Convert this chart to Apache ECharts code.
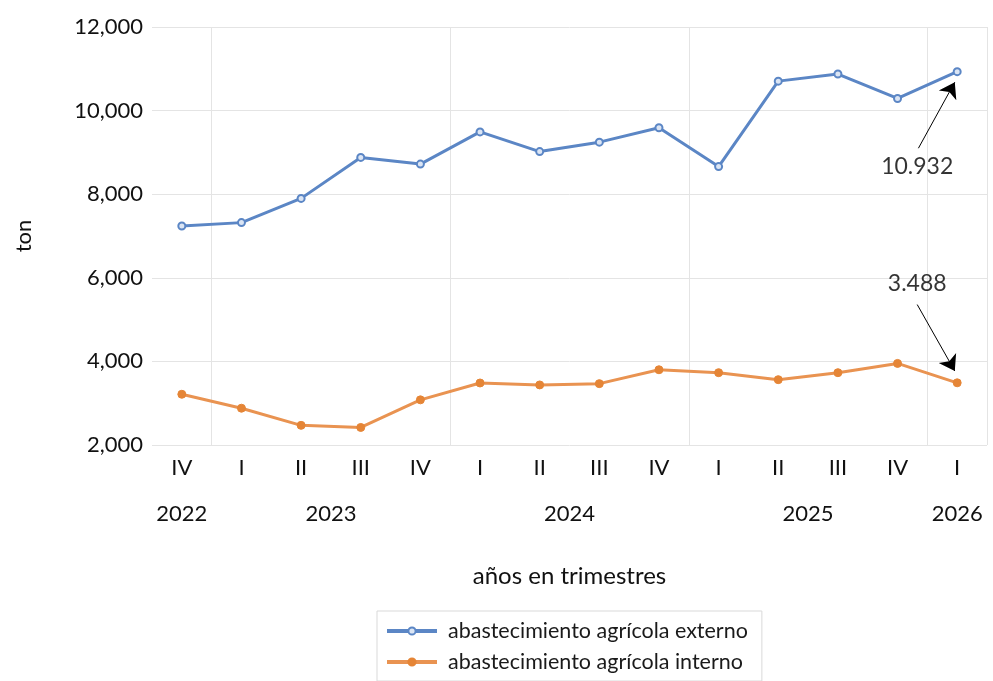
<!DOCTYPE html>
<html>
<head>
<meta charset="utf-8">
<script src="https://cdn.jsdelivr.net/npm/echarts@6/dist/echarts.min.js"></script>
<style>html,body{margin:0;padding:0;background:#fff}#c{width:993px;height:681px}</style>
</head>
<body>
<div id="c"></div>
<script>
const quarters = ['IV','I','II','III','IV','I','II','III','IV','I','II','III','IV','I'];
const yearLabels = ['2022','2023','2024','2025','2026'];
const yearPositions = [0, 2.5, 6.5, 10.5, 13];
const yearBoundaries = [1, 5, 9, 13];
const externo = [7240, 7320, 7900, 8880, 8720, 9490, 9020, 9245, 9590, 8660, 10705, 10875, 10290, 10932];
const interno = [3214, 2880, 2470, 2420, 3080, 3484, 3437, 3468, 3800, 3730, 3563, 3730, 3952, 3488];
const seriesNames = ['abastecimiento agrícola externo', 'abastecimiento agrícola interno'];
const annotationTexts = ['10.932', '3.488'];
const annotationTextPos = [[12.33, 8670], [12.33, 5860]];
const annotationArrows = [
  [[12.35, 9100], [12.96, 10680]],
  [[12.33, 5360], [12.96, 3770]]
];

const FONT = 'Lato';
const BLUE = '#5b86c5', ORANGE = '#e99351';
const chart = echarts.init(document.getElementById('c'));
chart.setOption({
  animation: false,
  textStyle: {fontFamily: FONT},
  grid: {left: 152, right: 6, top: 27, bottom: 236, containLabel: false},
  legend: {
    data: [
      {name: seriesNames[0], itemStyle: {color: '#dbe5f4', borderColor: BLUE, borderWidth: 2}, lineStyle: {width: 4, color: BLUE}},
      {name: seriesNames[1], itemStyle: {color: '#e58536', borderColor: '#e58536'}, lineStyle: {width: 4, color: ORANGE}}
    ],
    orient: 'vertical',
    left: 377, top: 611, height: 120,
    itemWidth: 50, itemHeight: 9, itemGap: 9,
    padding: [9, 14, 8, 8],
    borderColor: '#d9d9d9', borderWidth: 1,
    textStyle: {fontFamily: FONT, fontSize: 21.5, color: '#1a1a1a', padding: [0, 0, 0, 6]}
  },
  xAxis: [
    {
      type: 'category', data: quarters, boundaryGap: true,
      axisLine: {show: false}, axisTick: {show: false},
      axisLabel: {fontSize: 22, color: '#111', margin: 12, interval: 0},
      splitLine: {show: true, interval: (i) => yearBoundaries.includes(i), lineStyle: {color: '#e4e4e4', width: 1}},
      name: 'años en trimestres', nameLocation: 'middle', nameGap: 119,
      nameTextStyle: {fontSize: 24, color: '#111'}
    },
    {
      type: 'value', position: 'bottom', offset: 46,
      min: -0.5, max: 13.5, interval: 0.5,
      axisLine: {show: false}, axisTick: {show: false}, splitLine: {show: false},
      axisLabel: {
        fontSize: 22, color: '#111', margin: 12, showMinLabel: true, showMaxLabel: true,
        formatter: (v) => { const i = yearPositions.findIndex(p => Math.abs(p - v) < 1e-6); return i >= 0 ? yearLabels[i] : ''; }
      }
    }
  ],
  yAxis: {
    type: 'value', min: 2000, max: 12000, interval: 2000,
    axisLine: {show: false}, axisTick: {show: false},
    axisLabel: {fontSize: 22, color: '#111', margin: 9},
    splitLine: {lineStyle: {color: '#e4e4e4', width: 1}},
    name: 'ton', nameLocation: 'middle', nameGap: 117, nameRotate: 90,
    nameTextStyle: {fontSize: 22, color: '#111'}
  },
  series: [
    {
      name: seriesNames[0], type: 'line', data: externo, xAxisIndex: 0,
      symbol: 'circle', symbolSize: 7, showAllSymbol: true,
      lineStyle: {color: BLUE, width: 3},
      itemStyle: {color: '#dbe5f4', borderColor: BLUE, borderWidth: 2}
    },
    {
      name: seriesNames[1], type: 'line', data: interno, xAxisIndex: 0,
      symbol: 'circle', symbolSize: 8, showAllSymbol: true,
      lineStyle: {color: ORANGE, width: 3},
      itemStyle: {color: '#e58536', borderColor: '#e58536', borderWidth: 1}
    },
    {
      type: 'lines', coordinateSystem: 'cartesian2d', xAxisIndex: 1, yAxisIndex: 0,
      symbol: ['none', 'arrow'], symbolSize: [0, 15],
      lineStyle: {color: '#000', width: 1, opacity: 1, curveness: 0},
      data: annotationArrows.map(c => ({coords: c})),
      silent: true, z: 5
    },
    {
      type: 'scatter', xAxisIndex: 1, yAxisIndex: 0, symbolSize: 0,
      data: annotationTextPos.map((p, i) => ({value: p, text: annotationTexts[i]})),
      label: {show: true, position: 'inside', fontSize: 23, color: '#000', formatter: (p) => p.data.text},
      silent: true, z: 6
    }
  ]
});
</script>
</body>
</html>
